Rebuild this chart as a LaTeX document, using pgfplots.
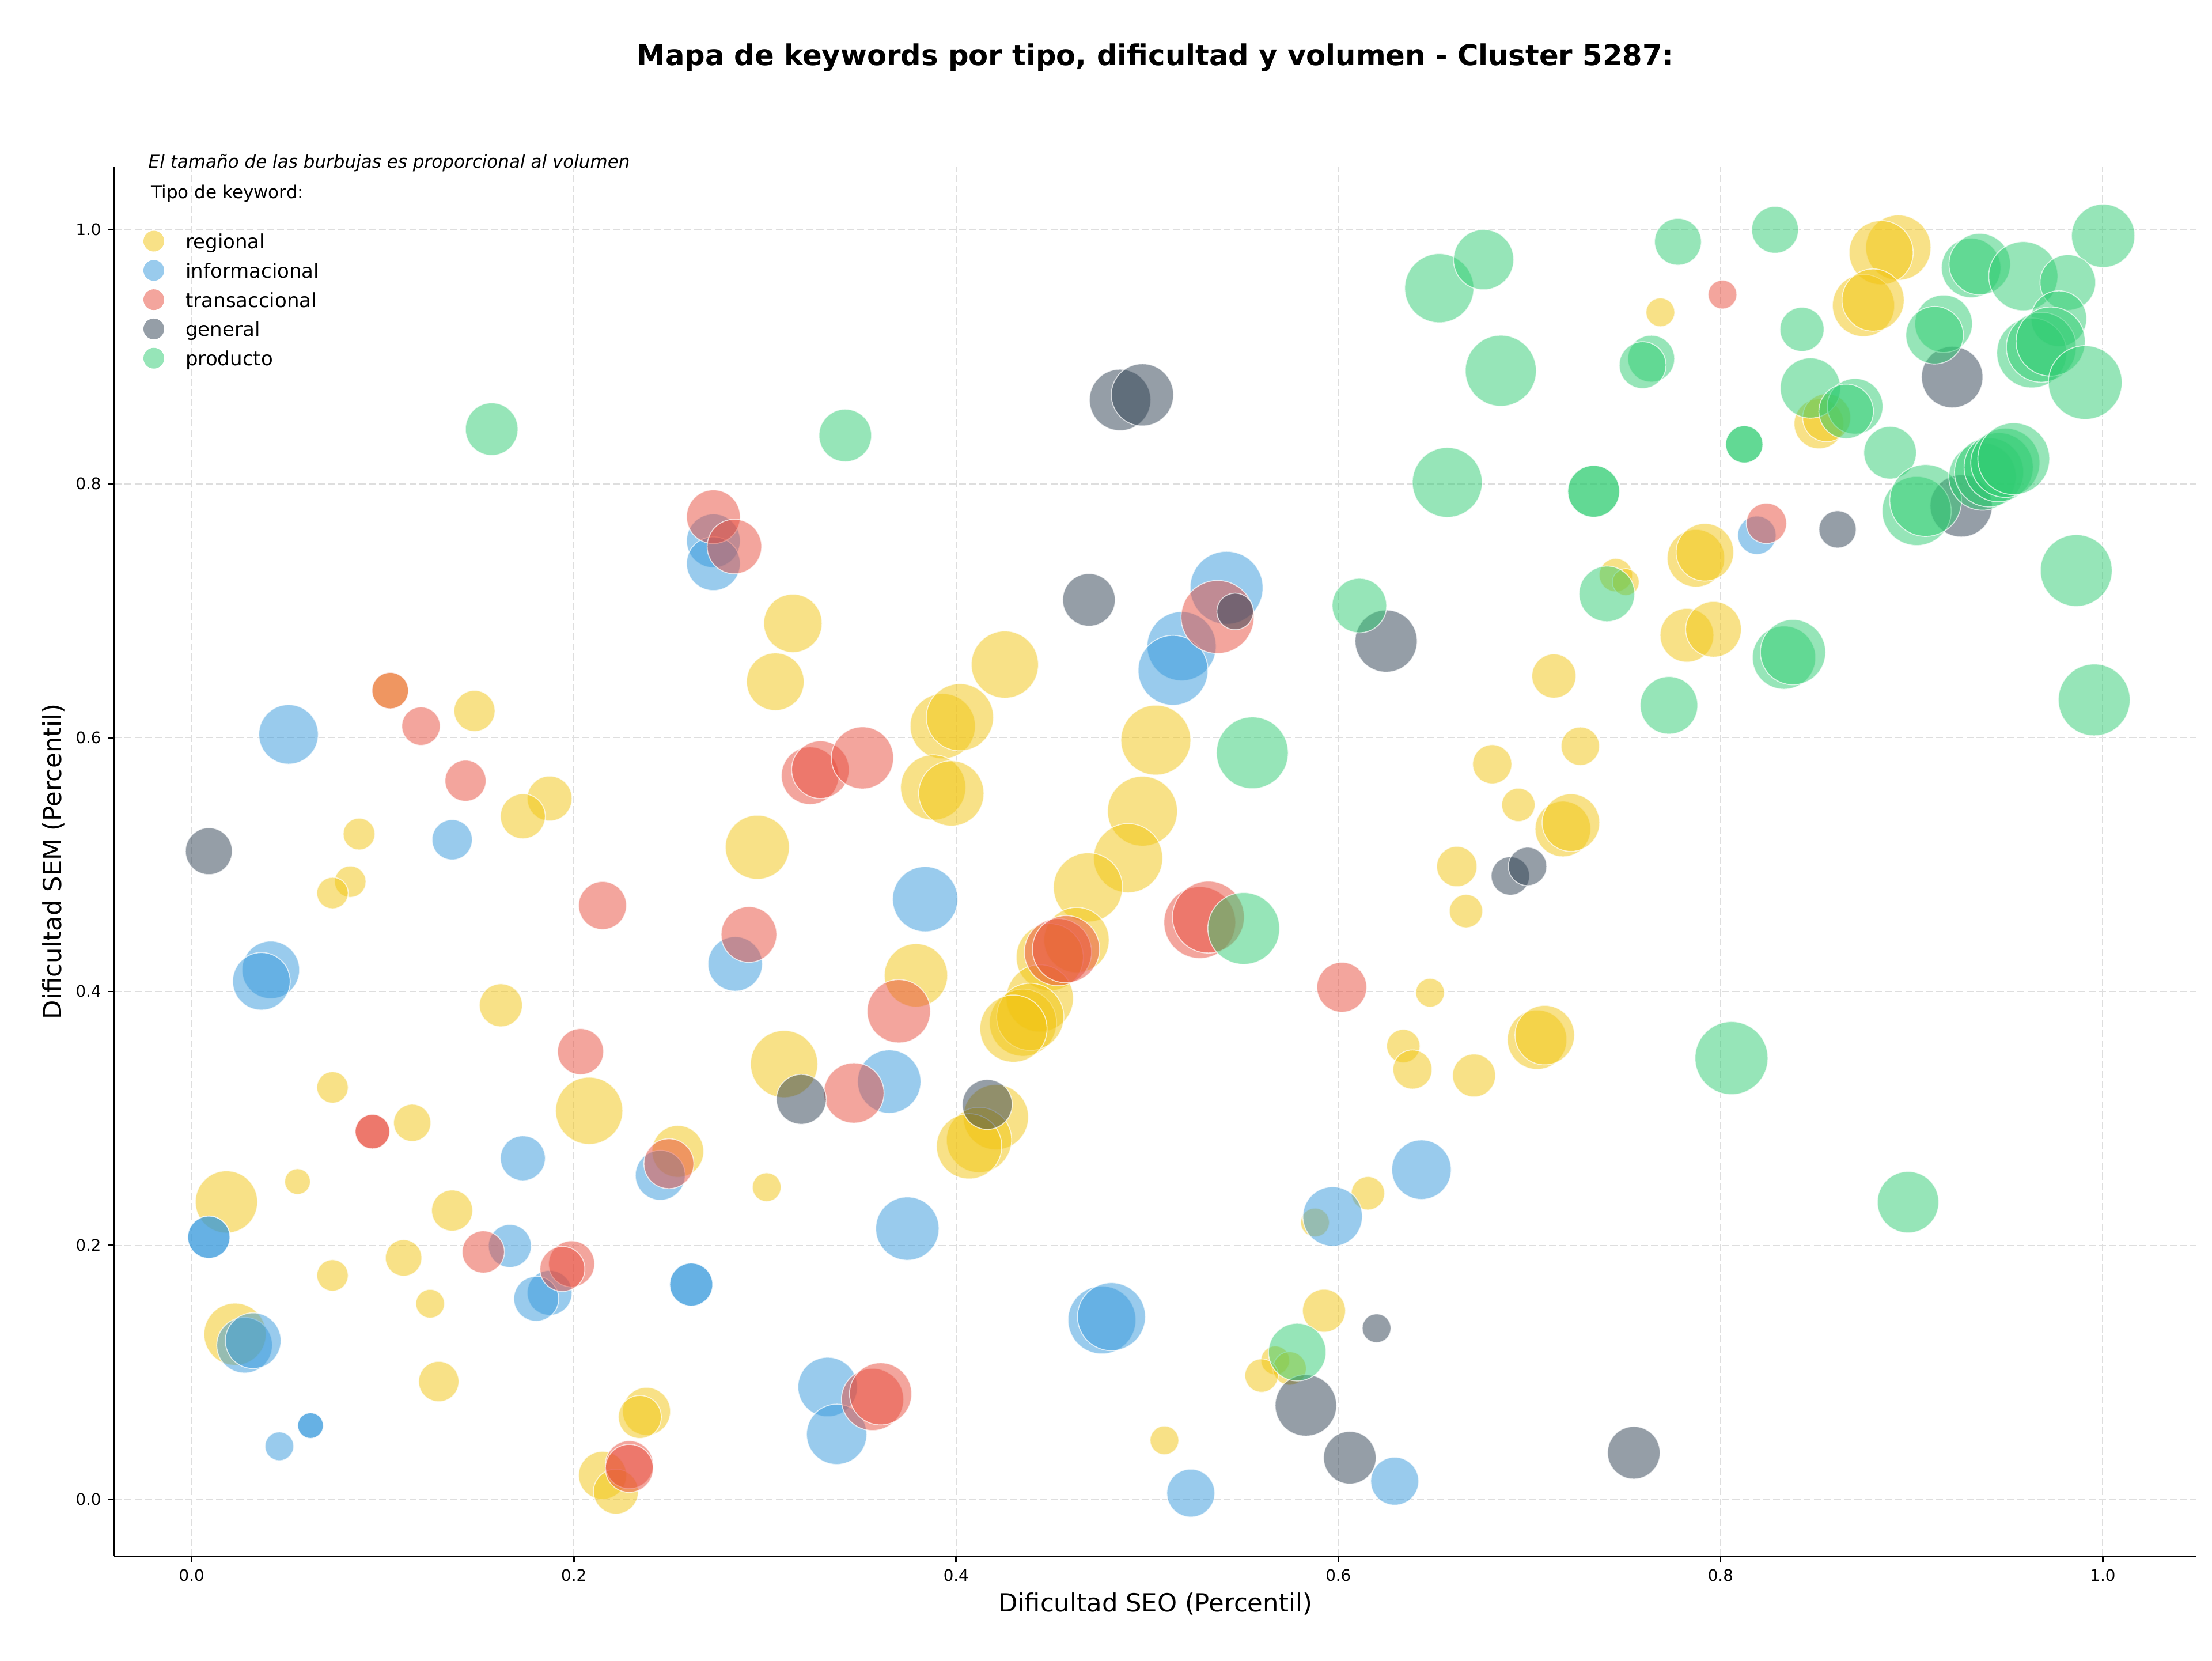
\documentclass[border=0pt]{standalone}
\usepackage{fontspec}
\setmainfont{DejaVu Sans}
\usepackage{pgfplots}
\pgfplotsset{compat=1.18}
\definecolor{creg}{HTML}{F1C40F}
\definecolor{cinf}{HTML}{3498DB}
\definecolor{ctra}{HTML}{E74C3C}
\definecolor{cgen}{HTML}{2C3E50}
\definecolor{cpro}{HTML}{2ECC71}
\pgfplotsset{
  bubble/.style={scatter, only marks, mark=*,
    scatter/use mapped color={draw=white, fill=#1, fill opacity=0.5, draw opacity=0.7, line width=0.5pt},
    visualization depends on={\thisrow{r}\as\rr},
    scatter/@pre marker code/.append style={/tikz/mark size=\rr},
    legend image code/.code={\path[draw=none, fill=none] (-5.4pt,-7.62pt) rectangle (16.6pt,7.62pt);\fill[draw=none, #1, fill opacity=0.5] (0,0) circle (5.4pt);}}
}
\begin{document}
\begin{tikzpicture}
\path[use as bounding box] (-59.5pt,-54.5pt) rectangle (1092.5pt,810.4pt);
\begin{axis}[
  scale only axis, width=1084.4pt, height=723.7pt,
  xmin=-0.0405, xmax=1.049, ymin=-0.045, ymax=1.0499,
  axis lines=left, axis line style={-, line width=0.8pt},
  tick align=outside, major tick length=3.3pt, tick style={line width=0.8pt, black},
  xtick={0,0.2,0.4,0.6,0.8,1.0}, ytick={0,0.2,0.4,0.6,0.8,1.0},
  /pgf/number format/.cd, fixed, fixed zerofill, precision=1, assume math mode=true, /pgfplots/.cd,
  ticklabel style={font=\fontsize{8.3}{10}\selectfont},
  grid=major, major grid style={draw=black!13, dash pattern=on 3.7pt off 1.6pt, line width=0.6pt},
  xlabel={Dificultad SEO (Percentil)}, ylabel={Dificultad SEM (Percentil)},
  label style={font=\fontsize{13}{15}\selectfont},
  xlabel style={at={(axis description cs:0.5,-0.0344)}, anchor=center},
  ylabel style={at={(axis description cs:-0.0291,0.5)}, anchor=center},
  legend cell align=left,
  legend style={draw=none, fill=none, inner sep=0pt, outer sep=0pt,
    at={(rel axis cs:0,1)}, anchor=north west, xshift=15.2pt, yshift=-31.25pt,
    font=\fontsize{10.2}{12}\selectfont, row sep=0pt, column sep=0pt,
    nodes={inner sep=0pt, text depth=0pt}},
  clip=false,
]
\addplot[bubble=creg] table[x=x,y=y] {
x y r
0.893 0.986 17
0.884 0.982 16.7
0.8748 0.9404 16.2
0.8798 0.9447 16.2
0.7685 0.935 7.5
0.8515 0.8472 13
0.8555 0.852 12.5
0.7871 0.7413 15
0.7918 0.746 15
0.7452 0.728 8.7
0.7504 0.7225 7
0.7824 0.6806 14
0.7963 0.6853 14.5
0.7128 0.6485 11.5
0.7266 0.5932 10
0.6805 0.579 10.2
0.6942 0.547 8.7
0.7175 0.528 14.5
0.7217 0.533 15
0.662 0.4984 10.5
0.6668 0.4633 8.7
0.648 0.399 7.5
0.634 0.357 8.7
0.6388 0.3385 10.2
0.671 0.3338 11.2
0.704 0.362 15.5
0.708 0.3656 15.5
0.6155 0.241 8.7
0.5878 0.218 7.5
0.5925 0.1485 11.2
0.567 0.1094 7.5
0.5745 0.103 8.7
0.5598 0.0974 8.7
0.509 0.0464 7.5
0.3146 0.690 15.2
0.3054 0.644 15
0.4255 0.6575 17.5
0.393 0.609 17
0.402 0.616 17.5
0.5045 0.598 18.2
0.388 0.5607 17
0.3975 0.556 17
0.4975 0.542 18.2
0.490 0.505 18
0.469 0.482 18
0.463 0.4405 17
0.449 0.427 17.5
0.379 0.4127 16.5
0.4438 0.3946 17.5
0.435 0.3754 17.5
0.4388 0.38 17.5
0.430 0.3707 17.5
0.4208 0.301 17
0.412 0.283 17
0.4068 0.278 17
0.310 0.3428 17.5
0.296 0.5136 16.7
0.1039 0.637 9.5
0.148 0.621 10.7
0.1873 0.552 11.7
0.1733 0.538 11.7
0.0876 0.524 8.3
0.083 0.4865 8.2
0.0737 0.4775 8.2
0.1618 0.3891 11.2
0.0737 0.3244 8.2
0.1154 0.2965 9.7
0.208 0.306 17.5
0.2544 0.274 13.5
0.0554 0.2502 6.7
0.3009 0.2458 7.5
0.0182 0.2342 16.2
0.1363 0.2274 10.7
0.1109 0.1901 9.5
0.0737 0.1763 8.2
0.1248 0.1540 7.5
0.0227 0.130 16.2
0.1293 0.0927 10.5
0.238 0.0692 12.5
0.2345 0.0648 11.2
0.215 0.0188 12.5
0.222 0.006 11.7
};
\addlegendentry{regional}
\addplot[bubble=cinf] table[x=x,y=y] {
x y r
0.819 0.7594 10
0.5415 0.718 19
0.518 0.672 18
0.5135 0.653 18.2
0.6435 0.2596 15.5
0.597 0.2227 15.5
0.3838 0.4727 17
0.365 0.329 16.5
0.3745 0.2132 16.5
0.4763 0.1412 17.7
0.4813 0.1438 17.7
0.3328 0.0884 15.5
0.3375 0.0511 15.7
0.6295 0.0142 12.5
0.5228 0.0048 12.5
0.273 0.755 14
0.273 0.737 14
0.0507 0.6025 15.5
0.1363 0.5195 10.5
0.2844 0.4217 14.2
0.0414 0.417 15
0.0365 0.408 15
0.1733 0.2686 11.7
0.2452 0.2552 13
0.009 0.2064 11
0.009 0.2064 11
0.1665 0.1995 11.2
0.1873 0.1626 11.7
0.1803 0.1579 11.7
0.2614 0.1691 11.2
0.2614 0.1691 11.2
0.0277 0.1213 14.5
0.0322 0.1249 14.5
0.0622 0.058 6.7
0.0622 0.058 6.7
0.0459 0.0417 7.5
};
\addlegendentry{informacional}
\addplot[bubble=ctra] table[x=x,y=y] {
x y r
0.801 0.949 7.5
0.824 0.7688 10.5
0.5368 0.695 19
0.5275 0.4543 18.7
0.532 0.4586 18.7
0.4533 0.431 17.5
0.4575 0.4333 17.5
0.370 0.3844 16.5
0.6018 0.4033 13
0.3465 0.32 15.7
0.3563 0.0786 16.2
0.3605 0.083 16.2
0.273 0.774 14
0.284 0.7505 14.2
0.1039 0.637 9.5
0.120 0.609 10
0.1433 0.566 10.7
0.3236 0.570 15
0.329 0.5747 15
0.351 0.584 16.2
0.215 0.4677 12.5
0.2916 0.4449 14.5
0.2035 0.3526 12
0.0946 0.2896 9
0.0946 0.2896 9
0.2497 0.2643 13
0.1526 0.1948 11
0.1988 0.1854 12
0.194 0.1814 11.7
0.229 0.0272 12.5
0.229 0.0243 12.5
};
\addlegendentry{transaccional}
\addplot[bubble=cgen] table[x=x,y=y] {
x y r
0.9212 0.884 16
0.9259 0.7825 16.2
0.8612 0.764 9.7
0.4858 0.866 16
0.4975 0.870 16.2
0.4695 0.7085 13.7
0.546 0.6994 9.5
0.625 0.676 16.2
0.69 0.491 10
0.699 0.4985 10
0.4163 0.311 13
0.319 0.315 13
0.62 0.1347 7.5
0.583 0.0739 16
0.606 0.0327 13.7
0.7546 0.0366 13.7
0.009 0.5105 12.2
};
\addlegendentry{general}
\addplot[bubble=cpro] table[x=x,y=y] {
x y r
0.157 0.843 13.7
0.342 0.838 13.7
0.6528 0.954 18
0.676 0.9765 15.7
0.685 0.889 18.5
0.657 0.801 18.2
0.611 0.704 14.2
0.555 0.588 18.7
0.5505 0.4496 18.7
0.5785 0.1159 15
0.7777 0.9906 12.2
0.8285 1.0 12.2
0.7637 0.8985 12.2
0.7592 0.8934 12.2
0.8426 0.9216 11.5
0.9311 0.970 15.5
0.9356 0.973 16
0.9584 0.9635 18
1.0002 0.9953 16.5
0.9817 0.9585 14.5
0.9167 0.926 15
0.912 0.917 15
0.977 0.930 14.5
0.9628 0.903 18.2
0.9678 0.9075 18.2
0.9727 0.912 18
0.9908 0.8797 19.2
0.847 0.8754 15.7
0.8704 0.861 14.5
0.8657 0.857 14.2
0.8124 0.831 9.7
0.8124 0.831 9.7
0.8887 0.8244 13.7
0.7336 0.794 13.5
0.7336 0.794 13.5
0.9026 0.7785 18
0.9073 0.7868 18.7
0.937 0.8056 17.5
0.9405 0.809 18
0.9455 0.813 18
0.949 0.8165 18
0.9534 0.8197 18.7
0.7405 0.7132 14.5
0.9861 0.7316 18.7
0.8332 0.663 16.5
0.8379 0.6673 17
0.773 0.6254 15
0.9955 0.6297 18.7
0.8057 0.3475 19
0.8981 0.234 16
};
\addlegendentry{producto}
\node[anchor=center, font=\fontsize{14.9}{17}\selectfont\bfseries] at (rel axis cs:0.5,1.0782) {Mapa de keywords por tipo, dificultad y volumen - Cluster 5287:};
\node[anchor=base west, inner sep=0pt, font=\fontsize{9.3}{11}\selectfont\itshape] at (rel axis cs:0.01625,0.999) {El tamaño de las burbujas es proporcional al volumen};
\node[anchor=west, inner sep=0pt, font=\fontsize{9.3}{11}\selectfont] at (rel axis cs:0.0176,0.98065) {Tipo de keyword:};
\end{axis}
\end{tikzpicture}
\end{document}
